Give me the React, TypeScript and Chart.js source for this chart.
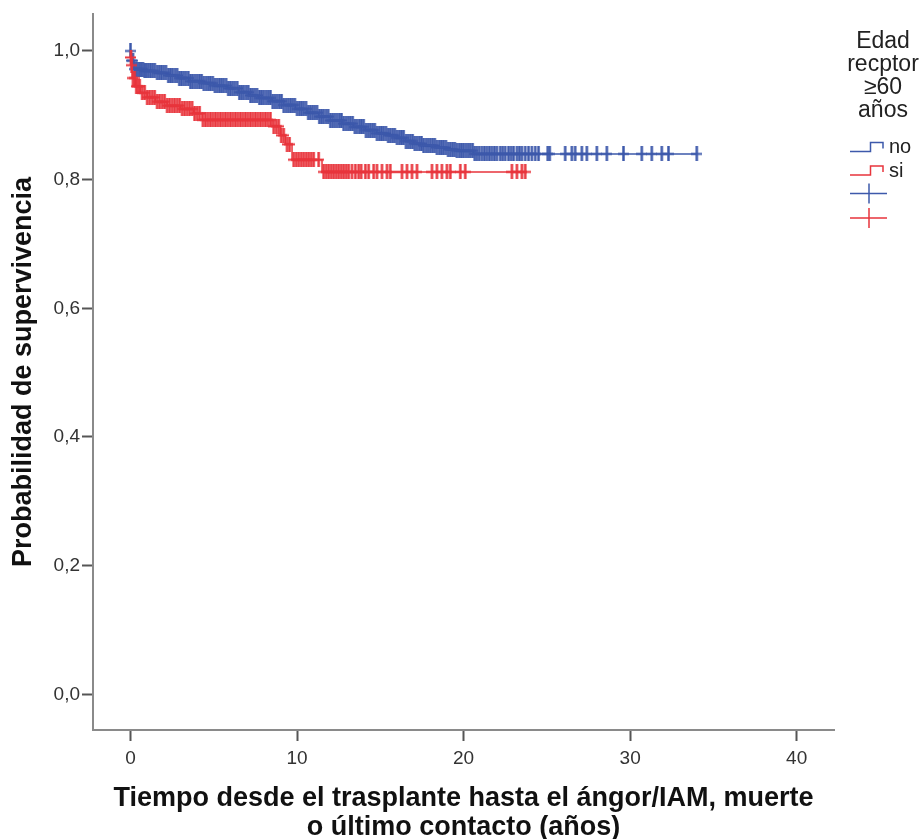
import React, { useEffect, useRef } from 'react';
import { Chart, registerables } from 'chart.js';

Chart.register(...registerables);

// ---------- data ----------
const xTicks = [0, 10, 20, 30, 40];
const yTicks = [0, 0.2, 0.4, 0.6, 0.8, 1.0];
const legendTitle = ['Edad', 'recptor', '≥60', 'años'];
const groupLabels = ['no', 'si'];
const xTitle = ['Tiempo desde el trasplante hasta el ángor/IAM, muerte', 'o último contacto (años)'];
const yTitle = 'Probabilidad de supervivencia';

// group "no" (blue): event times and survival after each step
const noStepTimes = [0, 0.05, 0.2, 0.8, 1.5, 2.2, 2.9, 3.5, 4.3, 5.0, 5.8, 6.5, 7.1, 7.7, 8.5, 9.2, 9.9, 10.6, 11.3, 12.0, 12.7, 13.4, 14.1, 14.8, 15.4, 16.0, 16.5, 17.0, 17.6, 18.3, 19.0, 19.5, 20.6];
const noStepSurv = [1.0, 0.985, 0.972, 0.969, 0.966, 0.962, 0.958, 0.953, 0.95, 0.946, 0.942, 0.936, 0.931, 0.927, 0.922, 0.916, 0.91, 0.904, 0.898, 0.892, 0.887, 0.882, 0.877, 0.872, 0.869, 0.865, 0.86, 0.856, 0.853, 0.85, 0.847, 0.845, 0.84];
const noCensorTimes = [
  0.0, 0.08, 0.15, 0.25, 0.35, 0.45, 0.55, 0.65, 0.75, 0.85, 0.95,
  1.07, 1.2, 1.33, 1.46, 1.6, 1.73, 1.86,
  2.0, 2.13, 2.27, 2.4, 2.53, 2.67, 2.8, 2.93,
  3.06, 3.2, 3.33, 3.47, 3.6, 3.73, 3.87,
  4.0, 4.14, 4.27, 4.4, 4.54, 4.67, 4.8, 4.94,
  5.07, 5.2, 5.34, 5.47, 5.6, 5.74, 5.87,
  6.0, 6.14, 6.27, 6.41, 6.54, 6.67, 6.8, 6.94,
  7.07, 7.21, 7.34, 7.47, 7.6, 7.74, 7.87,
  8.0, 8.14, 8.27, 8.4, 8.54, 8.67, 8.8, 8.94,
  9.07, 9.2, 9.34, 9.47, 9.61, 9.74, 9.87,
  10.0, 10.14, 10.27, 10.4, 10.54, 10.67, 10.8, 10.94,
  11.07, 11.2, 11.34, 11.47, 11.6, 11.74, 11.87,
  12.0, 12.14, 12.27, 12.4, 12.54, 12.67, 12.8, 12.94,
  13.07, 13.2, 13.34, 13.47, 13.6, 13.74, 13.87,
  14.0, 14.14, 14.27, 14.4, 14.54, 14.67, 14.8, 14.94,
  15.07, 15.2, 15.34, 15.47, 15.6, 15.74, 15.87,
  16.0, 16.14, 16.27, 16.4, 16.54, 16.67, 16.8, 16.94,
  17.07, 17.2, 17.34, 17.47, 17.6, 17.74, 17.87,
  18.0, 18.14, 18.27, 18.4, 18.54, 18.67, 18.8, 18.94,
  19.07, 19.2, 19.34, 19.47, 19.6, 19.74, 19.87,
  20.0, 20.14, 20.27, 20.4, 20.54, 20.67, 20.8, 20.94,
  21.1, 21.25, 21.4, 21.55, 21.7, 21.85, 22.0, 22.2, 22.35, 22.5, 22.7, 22.85,
  23.0, 23.2, 23.35, 23.5, 23.7, 23.9, 24.1, 24.3, 24.5,
  25.05, 25.17, 26.1, 26.5, 26.7, 27.1, 27.4, 28.0, 28.6, 29.6, 30.7, 31.3, 31.9, 32.3, 34.0,
];

// group "si" (red)
const siStepTimes = [0, 0.02, 0.05, 0.1, 0.3, 0.6, 1.0, 1.5, 2.2, 3.0, 3.8, 4.3, 8.5, 9.0, 9.3, 9.7, 11.5];
const siStepSurv = [1.0, 0.99, 0.978, 0.958, 0.945, 0.935, 0.928, 0.921, 0.915, 0.91, 0.903, 0.893, 0.883, 0.869, 0.855, 0.831, 0.812];
const siCensorTimes = [
  0.03, 0.07, 0.15, 0.25, 0.35, 0.45, 0.55, 0.7, 0.85, 1.0, 1.15, 1.3, 1.45, 1.6, 1.75, 1.9,
  2.05, 2.2, 2.35, 2.5, 2.65, 2.8, 2.95, 3.1, 3.25, 3.4, 3.55, 3.7, 3.85, 4.0, 4.15,
  4.35, 4.5, 4.65, 4.8, 4.95, 5.1, 5.25, 5.4, 5.55, 5.7, 5.85, 6.0, 6.15, 6.3, 6.45, 6.6,
  6.75, 6.9, 7.05, 7.2, 7.35, 7.5, 7.65, 7.8, 7.95, 8.1, 8.25, 8.4,
  8.6, 8.75, 8.9, 9.05, 9.2, 9.4, 9.55,
  9.8, 9.95, 10.1, 10.25, 10.4, 10.55, 10.7, 10.85, 11.0, 11.3,
  11.6, 11.75, 11.9, 12.05, 12.2, 12.35, 12.5, 12.65, 12.8, 12.95, 13.1, 13.3, 13.5, 13.7, 13.85,
  14.1, 14.3, 14.6, 14.8, 15.1, 15.4, 15.6, 16.3, 16.6, 16.9, 17.2,
  18.1, 18.4, 18.7, 19.0, 19.2, 19.8, 20.1, 22.9, 23.2, 23.5, 23.7,
];

// ---------- styling ----------
const BLUE = '#3d59ab';
const RED = '#e8353c';
const SANS = '"Liberation Sans", Arial, sans-serif';

function survAt(times: number[], surv: number[], t: number): number {
  let s = surv[0];
  for (let i = 0; i < times.length; i++) {
    if (times[i] <= t) s = surv[i];
    else break;
  }
  return s;
}

function stepPoints(times: number[], surv: number[], censors: number[]) {
  const pts = times.map((t, i) => ({ x: t, y: surv[i] }));
  pts.push({ x: censors[censors.length - 1], y: surv[surv.length - 1] });
  return pts;
}

function censorPoints(times: number[], surv: number[], censors: number[]) {
  return censors.map((t) => ({ x: t, y: survAt(times, surv, t) }));
}

function makeCross(color: string): HTMLCanvasElement {
  const c = document.createElement('canvas');
  c.width = 11;
  c.height = 15;
  const ctx = c.getContext('2d')!;
  ctx.strokeStyle = color;
  ctx.lineWidth = 2.5;
  ctx.beginPath();
  ctx.moveTo(5.5, 0);
  ctx.lineTo(5.5, 15);
  ctx.stroke();
  ctx.lineWidth = 2;
  ctx.beginPath();
  ctx.moveTo(0, 7.5);
  ctx.lineTo(11, 7.5);
  ctx.stroke();
  return c;
}

const legendPlugin = {
  id: 'kmLegend',
  afterDraw(chart: any) {
    const ctx = chart.ctx as CanvasRenderingContext2D;
    ctx.save();
    ctx.fillStyle = '#222';
    ctx.textBaseline = 'alphabetic';
    ctx.textAlign = 'center';
    ctx.font = `23px ${SANS}`;
    const cx = 883;
    legendTitle.forEach((s, i) => ctx.fillText(s, cx, 48 + i * 23));

    const colors = [BLUE, RED];
    ctx.lineWidth = 1.5;
    ctx.font = `20px ${SANS}`;
    ctx.textAlign = 'left';
    groupLabels.forEach((lab, i) => {
      const dy = i * 23.5;
      ctx.strokeStyle = colors[i];
      ctx.beginPath();
      ctx.moveTo(850, 151.5 + dy);
      ctx.lineTo(870.5, 151.5 + dy);
      ctx.lineTo(870.5, 142.5 + dy);
      ctx.lineTo(883, 142.5 + dy);
      ctx.lineTo(883, 148.5 + dy);
      ctx.stroke();
      ctx.fillStyle = '#222';
      ctx.fillText(lab, 889, 153 + dy);
    });
    colors.forEach((col, i) => {
      const y = 193.5 + i * 24.5;
      ctx.strokeStyle = col;
      ctx.beginPath();
      ctx.moveTo(850, y);
      ctx.lineTo(887, y);
      ctx.moveTo(869, y - 10);
      ctx.lineTo(869, y + 10);
      ctx.stroke();
    });
    ctx.restore();
  },
};

export default function App() {
  const ref = useRef<HTMLCanvasElement | null>(null);

  useEffect(() => {
    if (!ref.current) return;
    const blueCross = makeCross(BLUE);
    const redCross = makeCross(RED);
    const chart = new Chart(ref.current, {
      type: 'scatter',
      data: {
        datasets: [
          {
            label: 'si (censurado)',
            data: censorPoints(siStepTimes, siStepSurv, siCensorTimes),
            showLine: false,
            pointStyle: redCross as any,
            pointRadius: 6,
            order: 0,
          },
          {
            label: groupLabels[1],
            data: stepPoints(siStepTimes, siStepSurv, siCensorTimes),
            showLine: true,
            stepped: 'before',
            borderColor: RED,
            borderWidth: 1.5,
            pointRadius: 0,
            order: 1,
          },
          {
            label: 'no (censurado)',
            data: censorPoints(noStepTimes, noStepSurv, noCensorTimes),
            showLine: false,
            pointStyle: blueCross as any,
            pointRadius: 6,
            order: 2,
          },
          {
            label: groupLabels[0],
            data: stepPoints(noStepTimes, noStepSurv, noCensorTimes),
            showLine: true,
            stepped: 'before',
            borderColor: BLUE,
            borderWidth: 1.5,
            pointRadius: 0,
            order: 3,
          },
        ] as any,
      },
      options: {
        animation: false,
        responsive: false,
        events: [],
        layout: { padding: { top: 14, right: 87, left: 0, bottom: 0 } },
        plugins: { legend: { display: false }, tooltip: { enabled: false } },
        scales: {
          x: {
            type: 'linear',
            min: -2.25,
            max: 42.24,
            afterBuildTicks: (s: any) => {
              s.ticks = xTicks.map((v) => ({ value: v }));
            },
            afterFit: (s: any) => {
              s.height = 109;
            },
            grid: {
              drawOnChartArea: false,
              drawTicks: true,
              tickLength: 11,
              tickWidth: 2,
              tickColor: '#555',
              color: '#555',
            },
            border: { display: true, color: '#8a8a8a', width: 2 },
            ticks: {
              autoSkip: false,
              maxRotation: 0,
              padding: 6,
              color: '#333',
              font: { family: SANS, size: 19 },
              callback: (v: any) => String(v),
            },
            title: {
              display: true,
              text: xTitle,
              color: '#111',
              font: { family: SANS, size: 27, weight: 'bold', lineHeight: 29 / 27 },
              padding: { top: 0, bottom: -3 },
            },
          },
          y: {
            type: 'linear',
            min: -0.0555,
            max: 1.0575,
            afterBuildTicks: (s: any) => {
              s.ticks = yTicks.map((v) => ({ value: v }));
            },
            afterFit: (s: any) => {
              s.width = 93;
            },
            grid: {
              drawOnChartArea: false,
              drawTicks: true,
              tickLength: 11,
              tickWidth: 2,
              tickColor: '#555',
              color: '#555',
            },
            border: { display: true, color: '#8a8a8a', width: 2 },
            ticks: {
              autoSkip: false,
              padding: 2,
              color: '#333',
              font: { family: SANS, size: 19 },
              callback: (v: any) => Number(v).toFixed(1).replace('.', ','),
            },
            title: {
              display: true,
              text: yTitle,
              color: '#111',
              font: { family: SANS, size: 27, weight: 'bold', lineHeight: 29 / 27 },
              padding: { top: 9.5, bottom: 0 },
            },
          },
        },
      } as any,
      plugins: [legendPlugin],
    });
    return () => chart.destroy();
  }, []);

  return (
    <div style={{ position: 'absolute', left: 0, top: 0, width: 921, height: 839, background: '#fff' }}>
      <canvas ref={ref} width={921} height={839} style={{ width: 921, height: 839, display: 'block' }} />
    </div>
  );
}
